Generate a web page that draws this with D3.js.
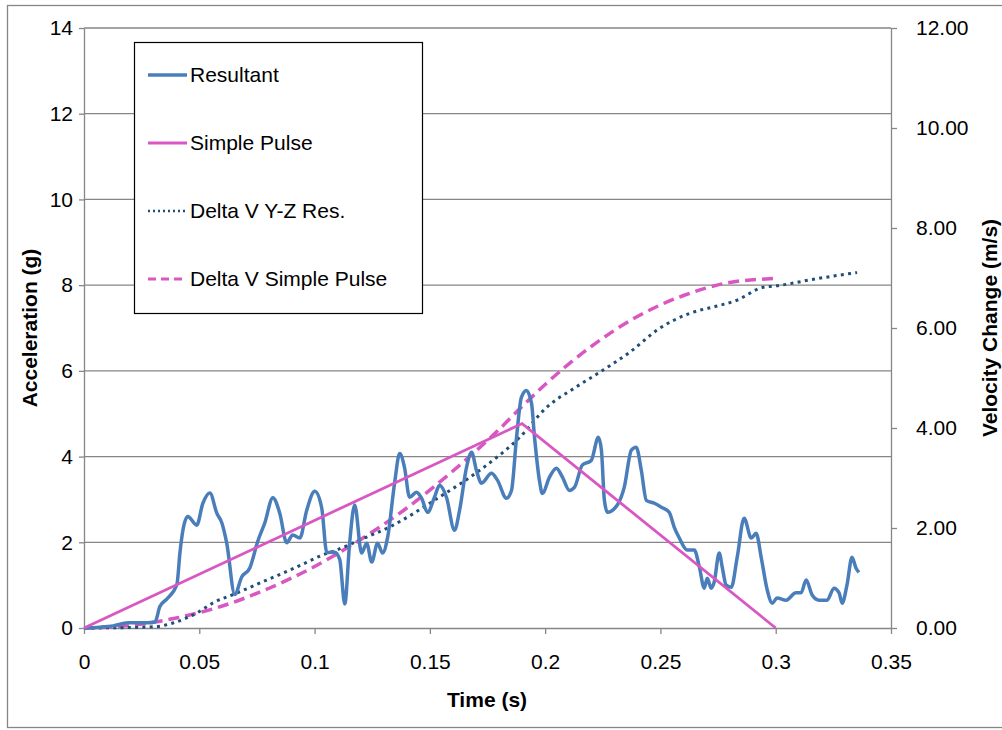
<!DOCTYPE html>
<meta charset="utf-8">
<head>
  <script src="https://d3js.org/d3.v7.min.js"></script>
  <style>
    html, body { margin: 0; padding: 0; background: #fff; }
    text { font-family: "Liberation Sans", Arial, sans-serif; fill: #000; }
    .axis path, .axis line { stroke: #868686; stroke-width: 1.3; }
    .axis text { font-size: 21px; }
    .grid line { stroke: #868686; stroke-width: 1.3; }
    .title { font-size: 21px; font-weight: bold; }
  </style>
</head>
<body>
<svg id="chart" width="1002" height="730"></svg>
<script>
  // acceleration of the resultant, g
  const resultantTime = [0, 0.0069, 0.0126, 0.0191, 0.0273, 0.0308, 0.0329, 0.0360, 0.0403, 0.0416, 0.0429, 0.0450,
    0.0489, 0.0515, 0.0546, 0.0576, 0.0598, 0.0619, 0.0654, 0.0684, 0.0719, 0.0754, 0.0784, 0.0819, 0.0849, 0.0879,
    0.0905, 0.0936, 0.0966, 0.1001, 0.1031, 0.1053, 0.1087, 0.1109, 0.1131, 0.1152, 0.1174, 0.1204, 0.1226, 0.1248,
    0.1273, 0.1295, 0.1317, 0.1347, 0.1369, 0.1390, 0.1412, 0.1442, 0.1464, 0.1490, 0.1520, 0.1542, 0.1572, 0.1607,
    0.1629, 0.1659, 0.1681, 0.1702, 0.1724, 0.1767, 0.1793, 0.1832, 0.1854, 0.1876, 0.1897, 0.1919, 0.1941, 0.1954,
    0.1975, 0.1988, 0.2019, 0.2049, 0.2075, 0.2105, 0.2127, 0.2161, 0.2200, 0.2231, 0.2244, 0.2257, 0.2270, 0.2313,
    0.2343, 0.2374, 0.2395, 0.2417, 0.2439, 0.2474, 0.2504, 0.2538, 0.2560, 0.2582, 0.2616, 0.2647, 0.2669, 0.2690,
    0.2703, 0.2720, 0.2733, 0.2755, 0.2768, 0.2785, 0.2807, 0.2833, 0.2863, 0.2894, 0.2915, 0.2937, 0.2963, 0.2985,
    0.3006, 0.3045, 0.3088, 0.3110, 0.3132, 0.3158, 0.3188, 0.3223, 0.3253, 0.3275, 0.3288, 0.3309, 0.3331, 0.3348, 0.3361]
  const resultantAccel = [0, 0.02, 0.05, 0.12, 0.12, 0.14, 0.5, 0.68, 1.02, 1.75, 2.28, 2.6,
    2.4, 2.9, 3.15, 2.68, 2.45, 1.98, 0.78, 1.19, 1.4, 2.03, 2.45, 3.04, 2.68, 1.99,
    2.17, 2.1, 2.75, 3.19, 2.8, 1.76, 1.77, 1.6, 0.56, 1.98, 2.87, 1.75, 1.98, 1.54,
    1.98, 1.75, 2.12, 3.38, 4.07, 3.75, 3.05, 3.17, 3.03, 2.7, 3.05, 3.33, 3.05, 2.28,
    2.75, 3.75, 4.1, 3.68, 3.38, 3.61, 3.45, 3.03, 3.21, 4.45, 5.38, 5.54, 5.24, 4.45,
    3.45, 3.14, 3.52, 3.73, 3.52, 3.21, 3.28, 3.8, 3.91, 4.45, 4.15, 2.98, 2.7, 2.87,
    3.28, 4.15, 4.22, 3.68, 2.98, 2.91, 2.82, 2.7, 2.35, 2.1, 1.82, 1.82, 1.42, 0.93,
    1.16, 0.93, 1.07, 1.75, 1.42, 1.0, 0.95, 1.65, 2.56, 2.1, 2.21, 1.65, 0.89, 0.58,
    0.7, 0.65, 0.82, 0.82, 1.12, 0.77, 0.65, 0.65, 0.93, 0.82, 0.58, 1.0, 1.65, 1.4, 1.3]

  // simple triangular pulse, g
  const pulseTime = [0, 0.19, 0.3]
  const pulseAccel = [0, 4.77, 0]

  // delta V of the Y-Z resultant, m/s
  const dvResTime = [0, 0.02, 0.0316, 0.0386, 0.0489, 0.0559, 0.0663, 0.0793, 0.0923, 0.1035, 0.1096, 0.1196,
    0.1325, 0.1542, 0.1715, 0.1889, 0.2006, 0.2131, 0.2235, 0.2365, 0.2495, 0.2625, 0.2755, 0.2829, 0.2941,
    0.3015, 0.3158, 0.3353]
  const dvRes = [0, 0.01, 0.03, 0.1, 0.3, 0.5, 0.7, 0.96, 1.22, 1.46, 1.56, 1.76,
    2.02, 2.62, 3.15, 3.81, 4.41, 4.81, 5.11, 5.51, 5.99, 6.29, 6.45, 6.55, 6.81,
    6.85, 6.97, 7.11]

  // delta V of the simple pulse, m/s
  const dvPulseTime = [0, 0.02, 0.04, 0.06, 0.08, 0.10, 0.12, 0.14, 0.16, 0.18, 0.19, 0.20, 0.22, 0.24, 0.26, 0.28, 0.30]
  const dvPulse = [0, 0.05, 0.2, 0.44, 0.79, 1.23, 1.77, 2.4, 3.14, 3.97, 4.43, 4.87, 5.63, 6.23, 6.65, 6.91, 6.99]

  const xTicks = [0, 0.05, 0.1, 0.15, 0.2, 0.25, 0.3, 0.35]
  const accelTicks = [0, 2, 4, 6, 8, 10, 12, 14]
  const velTicks = [0, 2, 4, 6, 8, 10, 12]

  const blue = "#4a7ebb", pink = "#d957c2", navy = "#1f4e79"

  const svg = d3.select("#chart")
  const plotLeft = 84, plotRight = 891, plotTop = 28, plotBottom = 628

  const x = d3.scaleLinear().domain([0, 0.35]).range([plotLeft, plotRight])
  const yL = d3.scaleLinear().domain([0, 14]).range([plotBottom, plotTop])
  const yR = d3.scaleLinear().domain([0, 12]).range([plotBottom, plotTop])

  // outer frame
  svg.append("rect")
    .attr("x", 7.5).attr("y", 5.5).attr("width", 1000).attr("height", 722)
    .attr("fill", "none").attr("stroke", "#868686").attr("stroke-width", 1.3)

  // gridlines
  svg.append("g").attr("class", "grid")
    .selectAll("line").data(accelTicks.slice(1)).join("line")
    .attr("x1", plotLeft).attr("x2", plotRight)
    .attr("y1", d => yL(d)).attr("y2", d => yL(d))

  svg.append("g").attr("class", "axis")
    .attr("transform", `translate(${plotLeft},0)`)
    .call(d3.axisLeft(yL).tickValues(accelTicks).tickSize(5).tickPadding(6).tickSizeOuter(0))

  svg.append("g").attr("class", "axis")
    .attr("transform", `translate(${plotRight},0)`)
    .call(d3.axisRight(yR).tickValues(velTicks).tickSize(6).tickPadding(19).tickSizeOuter(0)
      .tickFormat(d3.format(".2f")))

  svg.append("g").attr("class", "axis")
    .attr("transform", `translate(0,${plotBottom})`)
    .call(d3.axisBottom(x).tickValues(xTicks).tickSize(6).tickPadding(20).tickSizeOuter(0)
      .tickFormat(d => String(+d.toFixed(2))))

  svg.selectAll(".axis .domain").attr("stroke", "#868686")

  // axis titles
  svg.append("text").attr("class", "title")
    .attr("x", 487).attr("y", 707).attr("text-anchor", "middle").text("Time (s)")
  svg.append("text").attr("class", "title")
    .attr("transform", "translate(37,328) rotate(-90)")
    .attr("text-anchor", "middle").text("Acceleration (g)")
  svg.append("text").attr("class", "title")
    .attr("transform", "translate(997,328) rotate(-90)")
    .attr("text-anchor", "middle").text("Velocity Change (m/s)")

  const lineL = d3.line().x(d => x(d[0])).y(d => yL(d[1])).curve(d3.curveMonotoneX)
  const lineR = d3.line().x(d => x(d[0])).y(d => yR(d[1])).curve(d3.curveMonotoneX)

  const plot = svg.append("g")
  plot.append("path").datum(d3.zip(dvPulseTime, dvPulse))
    .attr("d", lineR).attr("fill", "none").attr("stroke", pink)
    .attr("stroke-width", 3.5).attr("stroke-dasharray", "11,6")
  plot.append("path").datum(d3.zip(dvResTime, dvRes))
    .attr("d", lineR).attr("fill", "none").attr("stroke", navy)
    .attr("stroke-width", 3).attr("stroke-dasharray", "3,4.3")
  plot.append("path").datum(d3.zip(resultantTime, resultantAccel))
    .attr("d", lineL).attr("fill", "none").attr("stroke", blue)
    .attr("stroke-width", 3.5).attr("stroke-linejoin", "round")
  plot.append("path").datum(d3.zip(pulseTime, pulseAccel))
    .attr("d", d3.line().x(d => x(d[0])).y(d => yL(d[1])))
    .attr("fill", "none").attr("stroke", pink).attr("stroke-width", 2.8)

  // legend
  const legendItems = [
    { name: "Resultant", color: blue, dash: null, w: 3.5 },
    { name: "Simple Pulse", color: pink, dash: null, w: 3 },
    { name: "Delta V Y-Z Res.", color: navy, dash: "2,3", w: 2.5 },
    { name: "Delta V Simple Pulse", color: pink, dash: "8,5", w: 3 }
  ]
  const legend = svg.append("g")
  legend.append("rect")
    .attr("x", 134.5).attr("y", 42.5).attr("width", 288).attr("height", 271)
    .attr("fill", "#fff").attr("stroke", "#000").attr("stroke-width", 1.2)
  const item = legend.selectAll("g.item").data(legendItems).join("g")
    .attr("class", "item")
    .attr("transform", (d, i) => `translate(0,${75 + i * 68})`)
  item.append("line")
    .attr("x1", 148).attr("x2", 187).attr("y1", 0).attr("y2", 0)
    .attr("stroke", d => d.color).attr("stroke-width", d => d.w)
    .attr("stroke-dasharray", d => d.dash)
  item.append("text")
    .attr("x", 190).attr("y", 0).attr("dy", "0.35em")
    .style("font-size", "21px").text(d => d.name)
</script>
</body>
